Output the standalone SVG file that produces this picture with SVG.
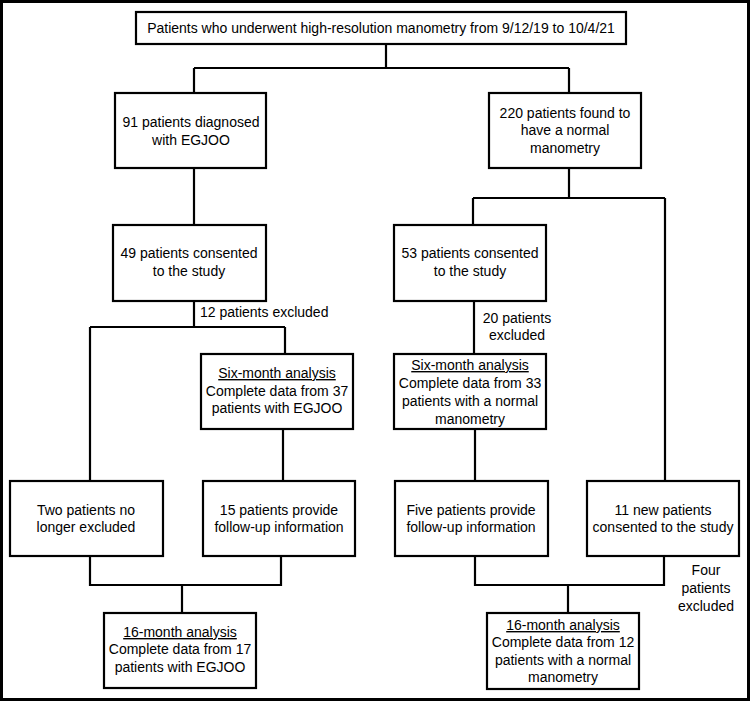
<svg xmlns="http://www.w3.org/2000/svg" width="750" height="701" viewBox="0 0 750 701">
<style>
.box{fill:#fff;stroke:#000;stroke-width:2.2}
.ln{fill:none;stroke:#000;stroke-width:2.2}
text{font-family:"Liberation Sans",Arial,sans-serif;font-size:14px;fill:#000}
.c{text-anchor:middle}
.u{text-decoration:underline}
</style>
<rect x="0" y="0" width="750" height="701" fill="#fff"/>
<rect x="1.5" y="1.5" width="747" height="698" fill="none" stroke="#000" stroke-width="3"/>
<g id="connectors" class="ln">
<path d="M386,44V68M194,68H569M194,68V93M569,68V93"/>
<path d="M194,168V225"/>
<path d="M569,168V198M473,198H665M473,198V225M665,198V481"/>
<path d="M194,301V327M90,327H285M90,327V481M285,327V354"/>
<path d="M474,301V354"/>
<path d="M283,429V481M475,429V481"/>
<path d="M90,556V585H281V556M182,585V613"/>
<path d="M475,556V585H664V556M568,585V613"/>
</g>
<g id="n-top"><rect class="box" x="136" y="12" width="490" height="32"/>
<text class="c" x="381" y="33">Patients who underwent high-resolution manometry from 9/12/19 to 10/4/21</text></g>
<g id="n-egjoo"><rect class="box" x="115" y="93" width="151" height="75"/>
<text class="c" x="191" y="127">91 patients diagnosed</text><text class="c" x="191" y="145">with EGJOO</text></g>
<g id="n-normal"><rect class="box" x="489" y="93" width="152" height="75"/>
<text class="c" x="565" y="118">220 patients found to</text><text class="c" x="565" y="135">have a normal</text><text class="c" x="565" y="153">manometry</text></g>
<g id="n-49"><rect class="box" x="113" y="225" width="153" height="76"/>
<text class="c" x="189" y="258">49 patients consented</text><text class="c" x="189" y="276">to the study</text></g>
<g id="n-53"><rect class="box" x="394" y="225" width="152" height="76"/>
<text class="c" x="470" y="258">53 patients consented</text><text class="c" x="470" y="276">to the study</text></g>
<g id="l-12"><text x="200" y="317">12 patients excluded</text></g>
<g id="l-20"><text class="c" x="517" y="323">20 patients</text><text class="c" x="517" y="340">excluded</text></g>
<g id="n-six-l"><rect class="box" x="201" y="354" width="152" height="75"/>
<text class="c u" x="277" y="378">Six-month analysis</text><text class="c" x="277" y="396">Complete data from 37</text><text class="c" x="277" y="413">patients with EGJOO</text></g>
<g id="n-six-r"><rect class="box" x="394" y="354" width="152" height="75"/>
<text class="c u" x="470" y="370">Six-month analysis</text><text class="c" x="470" y="388">Complete data from 33</text><text class="c" x="470" y="406">patients with a normal</text><text class="c" x="470" y="424">manometry</text></g>
<g id="n-two"><rect class="box" x="10" y="481" width="153" height="75"/>
<text class="c" x="86" y="515">Two patients no</text><text class="c" x="86" y="532">longer excluded</text></g>
<g id="n-15"><rect class="box" x="203" y="481" width="152" height="75"/>
<text class="c" x="279" y="515">15 patients provide</text><text class="c" x="279" y="532">follow-up information</text></g>
<g id="n-five"><rect class="box" x="395" y="481" width="153" height="75"/>
<text class="c" x="471" y="515">Five patients provide</text><text class="c" x="471" y="532">follow-up information</text></g>
<g id="n-11"><rect class="box" x="587" y="481" width="152" height="75"/>
<text class="c" x="663" y="515">11 new patients</text><text class="c" x="663" y="532">consented to the study</text></g>
<g id="l-four"><text class="c" x="706" y="575">Four</text><text class="c" x="706" y="593">patients</text><text class="c" x="706" y="611">excluded</text></g>
<g id="n-16-l"><rect class="box" x="104" y="613" width="152" height="75"/>
<text class="c u" x="180" y="637">16-month analysis</text><text class="c" x="180" y="654">Complete data from 17</text><text class="c" x="180" y="672">patients with EGJOO</text></g>
<g id="n-16-r"><rect class="box" x="487" y="613" width="152" height="76"/>
<text class="c u" x="563" y="630">16-month analysis</text><text class="c" x="563" y="647">Complete data from 12</text><text class="c" x="563" y="665">patients with a normal</text><text class="c" x="563" y="682">manometry</text></g>
</svg>
